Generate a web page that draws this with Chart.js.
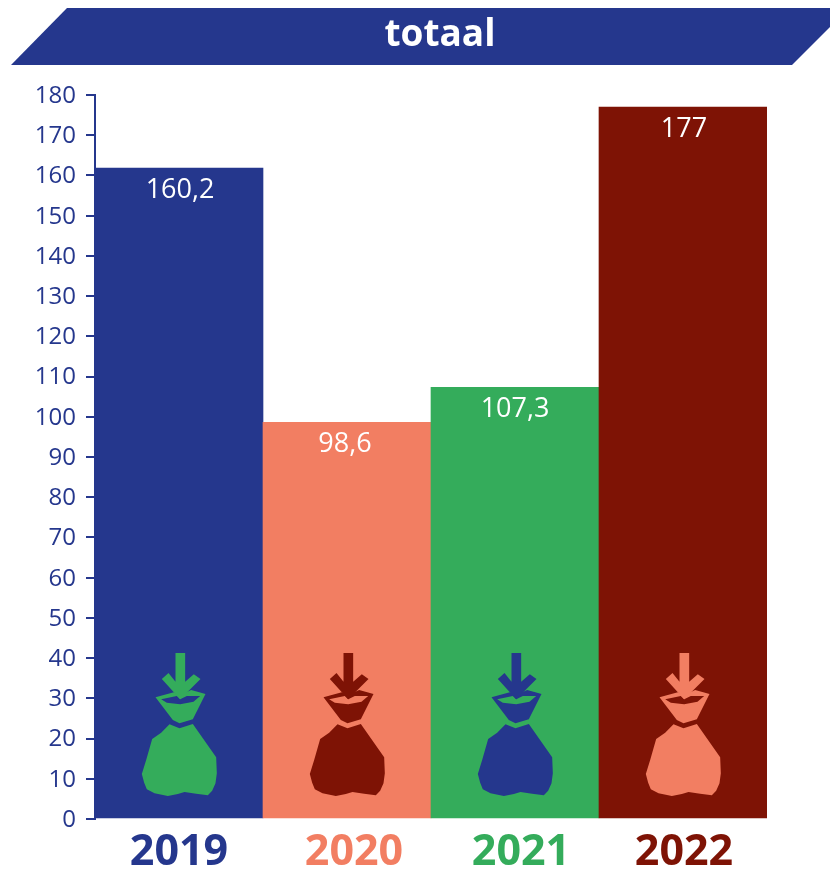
<!DOCTYPE html>
<html>
<head>
<meta charset="utf-8">
<title>totaal</title>
<script src="https://cdn.jsdelivr.net/npm/chart.js@4/dist/chart.umd.min.js"></script>
<style>
body { margin: 0; background: #fff; }
canvas { display: block; }
</style>
</head>
<body>
<canvas id="chartBar" width="830" height="872"></canvas>
<script>
var chartTitle = 'totaal';
var years = ['2019', '2020', '2021', '2022'];
var barValues = [161.8, 98.6, 107.3, 177];
var valueLabels = ['160,2', '98,6', '107,3', '177'];

var navy = '#25378d';
var salmon = '#f27e62';
var green = '#34ac5b';
var darkRed = '#7e1305';
var barColors = [navy, salmon, green, darkRed];
var yearColors = [navy, salmon, green, darkRed];
var iconColors = [green, darkRed, navy, salmon];
// jaartallen en waarden staan niet precies op het midden van de balk
var yearShift = [0, 7, 6, 1];
var valueShift = [1, -2, 0, 1];

var fontName = '"Open Sans", sans-serif';

// banner boven de grafiek
var bannerPlugin = {
    id: 'banner',
    beforeDraw: function (chart) {
        var ctx = chart.ctx;
        ctx.save();
        ctx.fillStyle = navy;
        ctx.beginPath();
        ctx.moveTo(11, 65);
        ctx.lineTo(67, 8);
        ctx.lineTo(830, 8);
        ctx.lineTo(830, 27);
        ctx.lineTo(792, 65);
        ctx.closePath();
        ctx.fill();
        ctx.fillStyle = '#fff';
        ctx.font = 'bold 37px ' + fontName;
        ctx.textAlign = 'center';
        ctx.textBaseline = 'alphabetic';
        ctx.fillText(chartTitle, 440, 46);
        ctx.restore();

        var xScale = chart.scales.x;
        xScale.getLabelItems().forEach(function (item, i) {
            item.options.translation[0] = xScale.getPixelForTick(i) + yearShift[i];
        });
        var yScale = chart.scales.y;
        yScale.getLabelItems().forEach(function (item, i) {
            item.options.translation[1] = yScale.getPixelForTick(i) + 1;
        });
    }
};

// zak met pijl, punten in pixels van de uitsnede (3x)
var arrowShape = [[138, 39], [167, 39], [167, 125], [193, 103], [213, 117], [152, 178], [97, 117], [117, 99], [138, 125]];
var collarShape = [[78, 172], [133, 157], [150, 166], [185, 150], [228, 162], [190, 238], [150, 250], [130, 240]];
var collarHole = [[95, 178], [142, 168], [152, 178], [172, 168], [212, 168], [192, 185], [152, 193], [112, 188]];
var bagShape = [[120, 253], [150, 265], [190, 252], [260, 352], [262, 400], [258, 430], [248, 452], [235, 466], [200, 461], [165, 456], [145, 462], [115, 468], [75, 460], [52, 448], [44, 428], [37, 402], [50, 360], [68, 297], [95, 278]];

function tracePath(ctx, pts) {
    ctx.moveTo(pts[0][0], pts[0][1]);
    for (var i = 1; i < pts.length; i++) {
        ctx.lineTo(pts[i][0], pts[i][1]);
    }
    ctx.closePath();
}

var barExtrasPlugin = {
    id: 'barExtras',
    afterDatasetsDraw: function (chart) {
        var ctx = chart.ctx;
        var yScale = chart.scales.y;
        var bars = chart.getDatasetMeta(0).data;
        bars.forEach(function (bar, i) {
            // waarde in de balk
            ctx.save();
            ctx.fillStyle = '#fff';
            ctx.font = '27px ' + fontName;
            ctx.textAlign = 'center';
            ctx.textBaseline = 'middle';
            ctx.fillText(valueLabels[i], bar.x + valueShift[i], bar.y + 22);
            ctx.restore();

            // icoon onderin de balk
            ctx.save();
            ctx.translate(bar.x - 49.5, yScale.getPixelForValue(0) - 179);
            ctx.scale(1 / 3, 1 / 3);
            ctx.fillStyle = iconColors[i];
            ctx.beginPath();
            tracePath(ctx, collarShape);
            tracePath(ctx, collarHole);
            ctx.fill('evenodd');
            ctx.beginPath();
            tracePath(ctx, bagShape);
            ctx.fill();
            ctx.beginPath();
            tracePath(ctx, arrowShape);
            ctx.fill();
            ctx.restore();
        });
    }
};

var barChart = new Chart(document.getElementById('chartBar'), {
    type: 'bar',
    data: {
        labels: years,
        datasets: [{
            data: barValues,
            backgroundColor: barColors,
            categoryPercentage: 1,
            barPercentage: 1
        }]
    },
    options: {
        responsive: false,
        animation: false,
        layout: { padding: { top: 95, right: 63, bottom: 0, left: 0 } },
        plugins: {
            legend: { display: false },
            tooltip: { enabled: false }
        },
        scales: {
            x: {
                afterFit: function (scale) { scale.height = 53; },
                grid: { display: false },
                border: { display: false },
                ticks: {
                    color: yearColors,
                    font: { family: fontName, size: 43, weight: 'bold' },
                    padding: 0,
                    maxRotation: 0
                }
            },
            y: {
                min: 0,
                max: 180,
                afterFit: function (scale) { scale.width = 95; },
                grid: {
                    drawOnChartArea: false,
                    color: navy,
                    lineWidth: 2,
                    tickLength: 9
                },
                border: { color: navy, width: 2 },
                ticks: {
                    stepSize: 10,
                    color: navy,
                    font: { family: fontName, size: 24 },
                    padding: 10,
                    z: 1
                }
            }
        }
    },
    plugins: [bannerPlugin, barExtrasPlugin]
});
</script>
</body>
</html>
